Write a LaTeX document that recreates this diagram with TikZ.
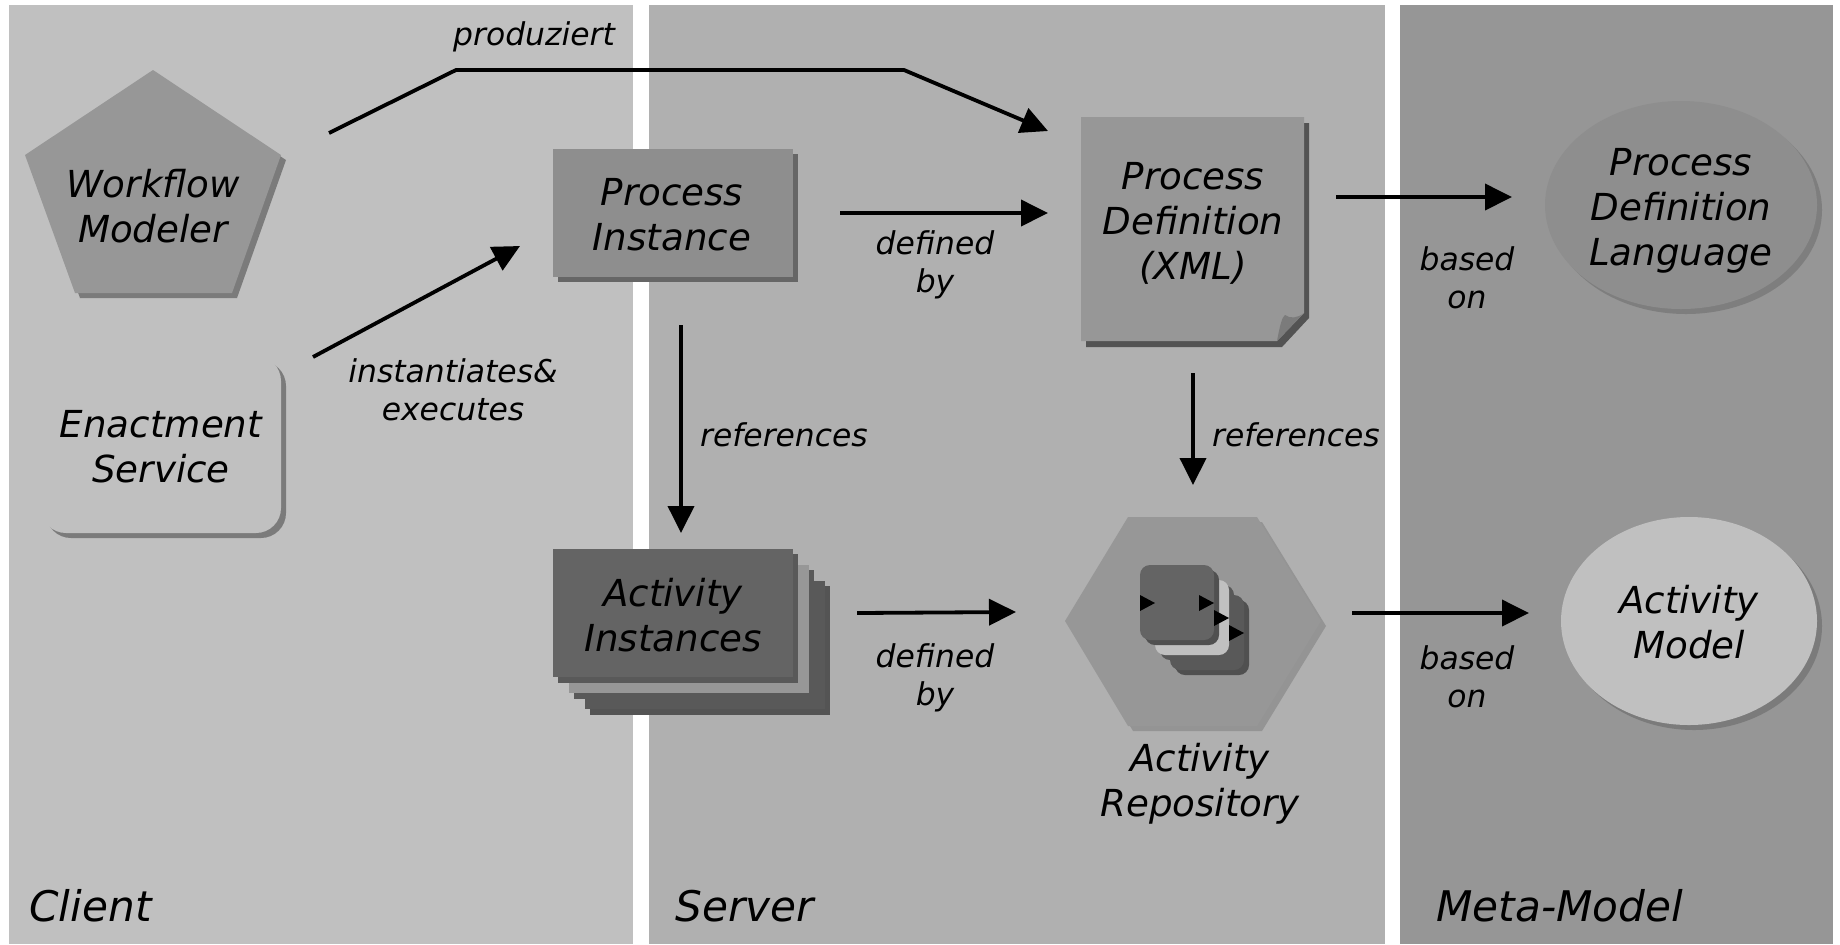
\documentclass[tikz,border=0pt]{standalone}
\usepackage{fontspec}
\setmainfont{DejaVu Sans}
\usetikzlibrary{arrows.meta}
\definecolor{panelA}{HTML}{C0C0C0}
\definecolor{panelB}{HTML}{B0B0B0}
\definecolor{panelC}{HTML}{969696}
\definecolor{shapeA}{HTML}{979797}
\definecolor{shapeB}{HTML}{8E8E8E}
\definecolor{darkA}{HTML}{646464}
\definecolor{darkB}{HTML}{595959}
\definecolor{shadowA}{HTML}{7B7B7B}
\definecolor{shadowB}{HTML}{666666}
\definecolor{shadowC}{HTML}{505050}
\newcommand{\bigtxt}{\fontsize{18.6}{22.5}\selectfont\itshape}
\newcommand{\midtxt}{\fontsize{15.7}{19}\selectfont\itshape}
\newcommand{\hugetxt}{\fontsize{21.1}{25}\selectfont\itshape}
\tikzset{
  x=.5pt,y=-.5pt,
  sz/.style 2 args={minimum width=#1*.5pt,minimum height=#2*.5pt,inner sep=0pt,outer sep=0pt},
  bigl/.style={font=\bigtxt,align=center,inner sep=0pt},
  midl/.style={font=\midtxt,align=center,inner sep=0pt},
  hugel/.style={font=\hugetxt,inner sep=0pt,anchor=base west},
  arr/.style={line width=1.9pt,-{Triangle[length=13.5pt,width=13pt]},line join=miter},
}
\begin{document}
\begin{tikzpicture}
\useasboundingbox (0,0) rectangle (1840,944);
\fill[white] (0,0) rectangle (1840,944);
% panels
\node[sz={624}{939},fill=panelA,anchor=north west] (client) at (9,5) {};
\node[sz={736}{939},fill=panelB,anchor=north west] (server) at (649,5) {};
\node[sz={433}{939},fill=panelC,anchor=north west] (meta) at (1400,5) {};
\node[hugel] (clientl) at (29,921) {Client};
\node[hugel] (serverl) at (675,921) {Server};
\node[hugel] (metal) at (1436,921) {Meta-Model};
% Workflow Modeler
\fill[shadowA] (158,75) -- (286,160) -- (237,298) -- (80,298) -- (30,160) -- cycle;
\fill[shapeA] (153,70) -- (281,155) -- (232,293) -- (75,293) -- (25,155) -- cycle;
\node[bigl] (wm) at (153,206) {Workflow\\Modeler};
% Enactment Service
\node[sz={240}{177},fill=shadowA,rounded corners=12.5pt,anchor=north west] (ess) at (46,361) {};
\node[sz={240}{177},fill=panelA,rounded corners=12.5pt,anchor=north west] (es) at (41,356) {};
\node[bigl] (esl) at (161,447) {Enactment\\Service};
% Process Instance
\node[sz={240}{128},fill=shadowB,anchor=north west] (pis) at (558,154) {};
\node[sz={240}{128},fill=shapeB,anchor=north west] (pi) at (553,149) {};
\node[bigl] (pil) at (672,215) {Process\\Instance};
% Process Definition
\fill[shadowC!70!darkB] (1086,123) -- (1309,123) -- (1309,318) -- (1282,347) -- (1086,347) -- cycle;
\fill[shapeA] (1081,117) -- (1304,117) -- (1304,313) -- (1277,341) -- (1081,341) -- cycle;
\fill[shadowA] (1277,341) .. controls (1280,325) and (1282,317) .. (1285,315) .. controls (1290,319) and (1298,318) .. (1304,313) -- cycle;
\node[bigl] (pd) at (1193,223) {Process\\Definition\\(XML)};
% Process Definition Language
\fill[shadowA!85!shapeB] (1686,210) ellipse [x radius=136,y radius=104];
\fill[shapeB] (1681,205) ellipse [x radius=136,y radius=104];
\node[bigl] (pdl) at (1681,211) {Process\\Definition\\Language};
% Activity Instances
\fill[shadowC!60!darkB] (590,586) rectangle (830,715);
\fill[darkB] (585,581) rectangle (825,709);
\fill[darkB] (574,570) rectangle (814,699);
\fill[shapeA] (569,565) rectangle (809,693);
\fill[darkB] (558,554) rectangle (798,683);
\node[sz={240}{128},fill=darkA,anchor=north west] (ai) at (553,549) {};
\node[bigl] (ail) at (673,615) {Activity\\Instances};
% Activity Repository
\fill[shapeA!98!black] (1133,522) -- (1262,522) -- (1326,626) -- (1262,731) -- (1133,731) -- (1070,626) -- cycle;
\fill[shapeA] (1128,517) -- (1257,517) -- (1321,621) -- (1257,726) -- (1128,726) -- (1065,621) -- cycle;
\node[sz={74}{75},fill=shadowC,rounded corners=5pt,anchor=north west] (r3s) at (1175,600) {};
\node[sz={74}{75},fill=darkB,rounded corners=5pt,anchor=north west] (r3) at (1170,595) {};
\node[sz={74}{75},fill=darkB,rounded corners=5pt,anchor=north west] (r2s) at (1160,585) {};
\node[sz={74}{75},fill=panelA,rounded corners=5pt,anchor=north west] (r2) at (1155,580) {};
\node[sz={74}{75},fill=shadowC,rounded corners=5pt,anchor=north west] (r1s) at (1145,570) {};
\node[sz={74}{75},fill=darkA,rounded corners=5pt,anchor=north west] (r1) at (1140,565) {};
\fill[black] (1140,595) -- (1140,611) -- (1155,603) -- cycle;
\fill[black] (1199,595) -- (1199,611) -- (1214,603) -- cycle;
\fill[black] (1214,610) -- (1214,626) -- (1229,618) -- cycle;
\fill[black] (1229,625) -- (1229,641) -- (1244,633) -- cycle;
\node[bigl] (arl) at (1200,784) {Activity\\Repository};
% Activity Model
\fill[shadowA] (1694,626) ellipse [x radius=128,y radius=104];
\fill[panelA] (1689,621) ellipse [x radius=128,y radius=104];
\node[bigl] (am) at (1689,622) {Activity\\Model};
% connector ends
\coordinate (c1a) at (329,133); \coordinate (c1b) at (456,70); \coordinate (c1c) at (904,70); \coordinate (c1d) at (1048,131);
\coordinate (c2a) at (840,213); \coordinate (c2b) at (1048,213);
\coordinate (c3a) at (313,357); \coordinate (c3b) at (520,246);
\coordinate (c4a) at (681,325); \coordinate (c4b) at (681,533);
\coordinate (c5a) at (1193,373); \coordinate (c5b) at (1193,485);
\coordinate (c6a) at (857,613); \coordinate (c6b) at (1016,612);
\coordinate (c7a) at (1352,613); \coordinate (c7b) at (1529,613);
\coordinate (c8a) at (1336,197); \coordinate (c8b) at (1512,197);
\draw[arr] (c1a) -- (c1b) -- (c1c) -- (c1d);
\draw[arr] (c2a) -- (c2b);
\draw[arr] (c3a) -- (c3b);
\draw[arr] (c4a) -- (c4b);
\draw[arr] (c5a) -- (c5b);
\draw[arr] (c6a) -- (c6b);
\draw[arr] (c7a) -- (c7b);
\draw[arr] (c8a) -- (c8b);
% labels
\node[midl] (l1) at (534,37) {produziert};
\node[midl] (l2) at (935,265) {defined\\by};
\node[midl] (l3) at (453,390) {instantiates\&\\executes};
\node[midl] (l4) at (784,435) {references};
\node[midl] (l5) at (1296,435) {references};
\node[midl] (l6) at (935,678) {defined\\by};
\node[midl] (l7) at (1467,278) {based\\on};
\node[midl] (l8) at (1467,677) {based\\on};
\end{tikzpicture}
\end{document}
